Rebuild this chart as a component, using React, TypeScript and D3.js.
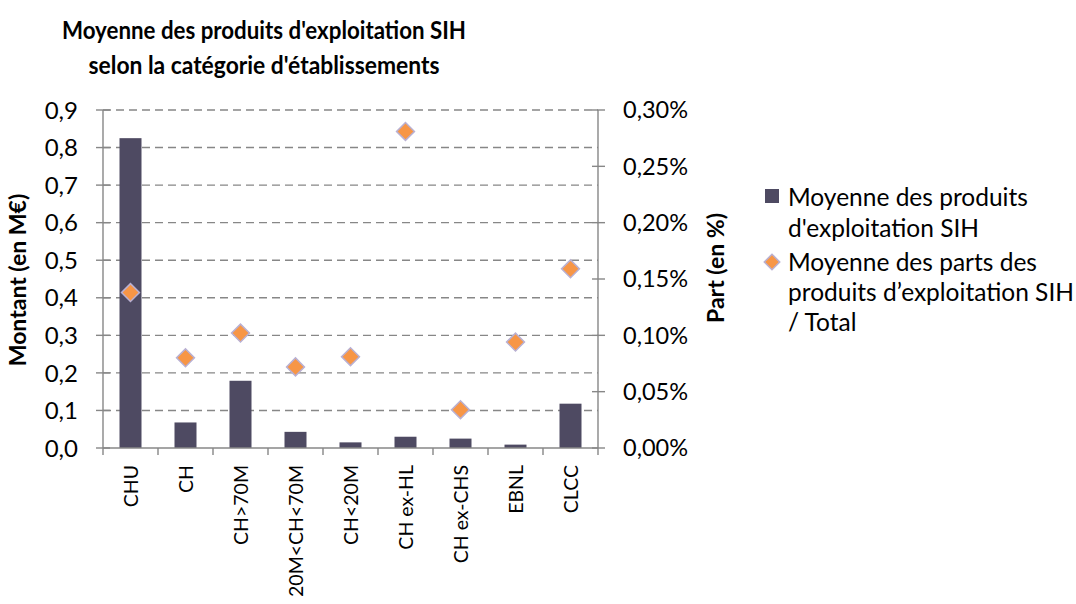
import React from 'react';
import * as d3 from 'd3';

// categories and values
const categories = ['CHU', 'CH', 'CH>70M', '20M<CH<70M', 'CH<20M', 'CH ex-HL', 'CH ex-CHS', 'EBNL', 'CLCC'];
const montants = [0.825, 0.068, 0.179, 0.043, 0.015, 0.03, 0.025, 0.009, 0.118];
const parts = [0.00138, 0.0008, 0.00102, 0.00072, 0.00081, 0.00281, 0.00034, 0.00094, 0.00159];
const leftTicks = [0, 0.1, 0.2, 0.3, 0.4, 0.5, 0.6, 0.7, 0.8, 0.9];
const rightTicks = [0, 0.0005, 0.001, 0.0015, 0.002, 0.0025, 0.003];
const titleLines = ["Moyenne des produits d'exploitation SIH", "selon la catégorie d'établissements"];
const titleWidths = [404, 351];
const legendBar = ['Moyenne des produits', "d'exploitation SIH"];
const legendPart = ['Moyenne des parts des', 'produits d’exploitation SIH', '/ Total'];

const W = 1076;
const H = 604;
const FONT = 'Lato, "Open Sans", sans-serif';
const BAR = '#4e4a62';
const ORANGE = '#f79646';
const GRID = '#878787';

const fr = d3.formatLocale({ decimal: ',', thousands: ' ', grouping: [3], currency: ['', ' €'] });
const fmtLeft = fr.format('.1f');
const fmtRight = fr.format('.2%');

const App = () => {
  const left = 103, right = 598, top = 110, bottom = 448;

  const x = d3.scaleBand<string>().domain(categories).range([left, right]).paddingInner(0.6).paddingOuter(0.3);
  const yL = d3.scaleLinear().domain([0, 0.9]).range([bottom, top]);
  const yR = d3.scaleLinear().domain([0, 0.003]).range([bottom, top]);
  const step = x.step();
  const diamond = d3.symbol().type(d3.symbolSquare).size(160);

  return (
    <svg width={W} height={H} style={{ position: 'absolute', left: 0, top: 0, background: '#fff' }} fontFamily={FONT}>
      {titleLines.map((t, i) => (
        <text key={t} x={264} y={39 + i * 35} textAnchor="middle" fontWeight="bold" fontSize={25}
          textLength={titleWidths[i]} lengthAdjust="spacingAndGlyphs" fill="#000">{t}</text>
      ))}

      {/* gridlines */}
      {leftTicks.filter(d => d > 0).map(d => (
        <line key={d} x1={left} x2={right} y1={yL(d)} y2={yL(d)} stroke={GRID} strokeWidth={1.4} strokeDasharray="8,5" />
      ))}

      {/* bars */}
      {categories.map((c, i) => (
        <rect key={c} x={x(c)} y={yL(montants[i])} width={x.bandwidth()} height={bottom - yL(montants[i])} fill={BAR} />
      ))}

      {/* axes */}
      <g stroke={GRID} strokeWidth={1.4}>
        <line x1={left} x2={left} y1={top} y2={bottom} />
        <line x1={right} x2={right} y1={top} y2={bottom} />
        <line x1={left} x2={right} y1={bottom} y2={bottom} />
        {leftTicks.map(d => <line key={'l' + d} x1={left - 7} x2={left + 7} y1={yL(d)} y2={yL(d)} />)}
        {rightTicks.map(d => <line key={'r' + d} x1={right - 6} x2={right + 7} y1={yR(d)} y2={yR(d)} />)}
        {d3.range(categories.length + 1).map(i => (
          <line key={'x' + i} x1={left + i * step} x2={left + i * step} y1={bottom} y2={bottom + 7} />
        ))}
      </g>

      {/* diamonds */}
      {categories.map((c, i) => (
        <path key={c} d={diamond() as string}
          transform={`translate(${x(c)! + x.bandwidth() / 2},${yR(parts[i])}) rotate(45)`}
          fill={ORANGE} stroke="#b9b0d2" strokeWidth={1.5} />
      ))}

      {/* tick labels */}
      {leftTicks.map(d => (
        <text key={d} x={78} y={yL(d)} dy="0.36em" textAnchor="end" fontSize={24} fill="#000">{fmtLeft(d)}</text>
      ))}
      {rightTicks.map(d => (
        <text key={d} x={623} y={yR(d)} dy="0.36em" textAnchor="start" fontSize={23.5} fill="#000">{fmtRight(d)}</text>
      ))}
      {categories.map(c => (
        <text key={c} transform={`translate(${x(c)! + x.bandwidth() / 2},${bottom + 17}) rotate(-90)`}
          dy="0.36em" textAnchor="end" fontSize={19.5} fill="#000">{c}</text>
      ))}

      {/* axis titles */}
      <text transform={`translate(18,280) rotate(-90)`} dy="0.36em" textAnchor="middle" fontWeight="bold" fontSize={23}>Montant (en M€)</text>
      <text transform={`translate(716,268) rotate(-90)`} dy="0.36em" textAnchor="middle" fontWeight="bold" fontSize={23}>Part (en %)</text>

      {/* legend */}
      <rect x={765} y={189} width={14} height={14} fill={BAR} />
      {legendBar.map((t, i) => (
        <text key={t} x={788} y={197 + i * 31} dy="0.36em" fontSize={24.5}>{t}</text>
      ))}
      <path d={diamond.size(120)() as string} transform="translate(772,262) rotate(45)" fill={ORANGE} stroke="#b9b0d2" strokeWidth={1.5} />
      {legendPart.map((t, i) => (
        <text key={t} x={788} y={262 + i * 30} dy="0.36em" fontSize={24.5}>{t}</text>
      ))}
    </svg>
  );
};

export default App;
